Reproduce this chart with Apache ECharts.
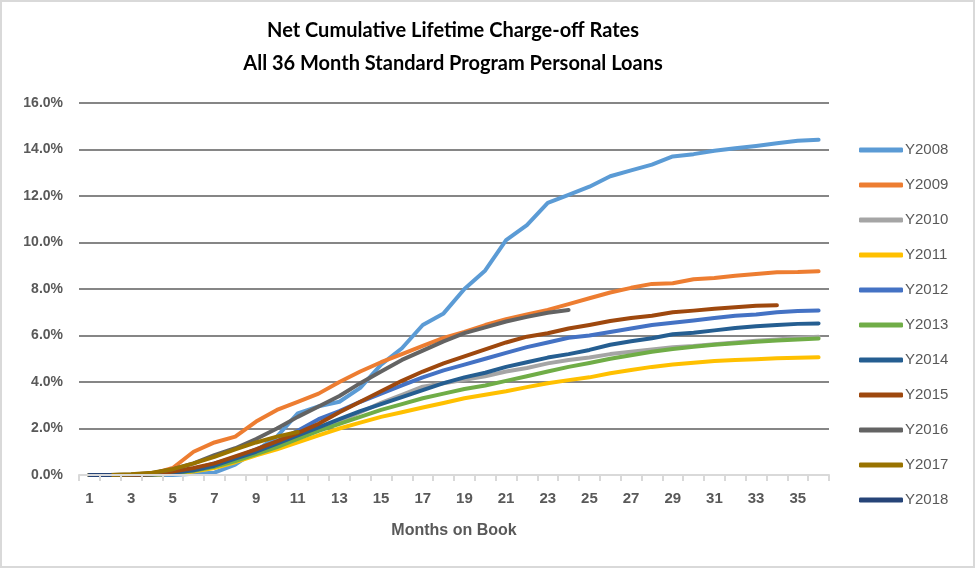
<!DOCTYPE html>
<html>
<head>
<meta charset="utf-8">
<script src="https://cdn.jsdelivr.net/npm/echarts@6/dist/echarts.min.js"></script>
<style>
html,body{margin:0;padding:0;background:#fff;}
#chart{width:975px;height:568px;box-sizing:border-box;border:2px solid #d9d9d9;}
</style>
</head>
<body>
<div id="chart"></div>
<script>
const months = Array.from({length: 36}, (_, i) => String(i + 1));
const seriesNames = ['Y2008','Y2009','Y2010','Y2011','Y2012','Y2013','Y2014','Y2015','Y2016','Y2017','Y2018'];
const colors = ['#5b9bd5','#ed7d31','#a5a5a5','#ffc000','#4472c4','#70ad47','#255e91','#9e480e','#636363','#997300','#264478'];

const Y2008 = [0,0,0,0,0,0.05,0.1,0.45,1.05,1.65,2.65,2.95,3.15,3.75,4.75,5.45,6.45,6.95,8.0,8.8,10.1,10.75,11.7,12.05,12.4,12.85,13.1,13.35,13.7,13.8,13.95,14.05,14.15,14.27,14.38,14.42];
const Y2009 = [0,0,0,0.05,0.3,1.0,1.4,1.65,2.3,2.8,3.15,3.5,4.0,4.45,4.85,5.2,5.55,5.9,6.15,6.45,6.7,6.9,7.1,7.35,7.6,7.85,8.05,8.22,8.25,8.42,8.47,8.57,8.65,8.72,8.73,8.76];
const Y2010 = [0,0,0,0.02,0.1,0.2,0.4,0.65,0.95,1.25,1.6,1.95,2.3,2.7,3.1,3.45,3.8,3.95,4.1,4.25,4.45,4.6,4.8,4.95,5.05,5.2,5.3,5.4,5.5,5.55,5.62,5.7,5.77,5.83,5.9,5.95];
const Y2011 = [0,0,0,0.01,0.05,0.15,0.3,0.55,0.85,1.1,1.4,1.7,2.0,2.25,2.5,2.7,2.9,3.1,3.3,3.45,3.6,3.78,3.95,4.08,4.2,4.38,4.52,4.65,4.75,4.83,4.9,4.95,4.98,5.02,5.04,5.06];
const Y2012 = [0,0,0,0.02,0.1,0.25,0.5,0.75,1.1,1.45,1.9,2.4,2.75,3.15,3.5,3.85,4.2,4.5,4.75,5.0,5.25,5.5,5.7,5.9,6.0,6.15,6.3,6.45,6.55,6.65,6.75,6.85,6.9,7.0,7.05,7.07];
const Y2013 = [0,0,0,0.02,0.08,0.18,0.35,0.6,0.9,1.2,1.55,1.9,2.2,2.5,2.8,3.05,3.3,3.5,3.7,3.85,4.05,4.25,4.45,4.65,4.82,5.0,5.15,5.3,5.42,5.52,5.6,5.67,5.73,5.78,5.83,5.87];
const Y2014 = [0,0,0,0.02,0.1,0.2,0.4,0.7,1.0,1.35,1.7,2.05,2.4,2.75,3.05,3.35,3.65,3.95,4.2,4.4,4.65,4.85,5.05,5.2,5.38,5.6,5.75,5.88,6.05,6.12,6.22,6.32,6.4,6.45,6.5,6.52];
const Y2015 = [0,0,0,0.03,0.15,0.3,0.5,0.8,1.1,1.45,1.8,2.2,2.7,3.15,3.6,4.05,4.45,4.8,5.1,5.4,5.7,5.95,6.1,6.3,6.45,6.62,6.75,6.85,7.0,7.07,7.15,7.22,7.28,7.3];
const Y2016 = [0,0,0.02,0.08,0.25,0.5,0.85,1.15,1.55,2.0,2.5,2.95,3.4,3.95,4.45,4.95,5.35,5.75,6.1,6.35,6.6,6.8,6.98,7.1];
const Y2017 = [0,0,0.03,0.1,0.25,0.5,0.78,1.1,1.4,1.65,1.85];
const Y2018 = [0,0];
const seriesData = [Y2008,Y2009,Y2010,Y2011,Y2012,Y2013,Y2014,Y2015,Y2016,Y2017,Y2018];

const titleLines = ['Net Cumulative Lifetime Charge-off Rates', 'All 36 Month Standard Program Personal Loans'];
const xAxisTitle = 'Months on Book';
const yMin = 0, yMax = 16, yStep = 2;

const chart = echarts.init(document.getElementById('chart'), null, {renderer: 'canvas'});
chart.setOption({
  animation: false,
  backgroundColor: '#ffffff',
  title: {
    text: titleLines.join('\n'),
    left: 446, top: 7, textAlign: 'center',
    textStyle: {fontFamily: 'Lato', fontWeight: 'bold', fontSize: 20, color: '#000', lineHeight: 33}
  },
  legend: {
    orient: 'vertical', left: 852, top: 133,
    itemWidth: 44, itemHeight: 5, itemGap: 15,
    icon: 'roundRect',
    data: seriesNames,
    textStyle: {fontFamily: 'Liberation Sans', fontSize: 15, color: '#595959', lineHeight: 20, padding: [0,0,0,-3]}
  },
  grid: {left: 77, right: 144, top: 101, bottom: 91, containLabel: false},
  xAxis: {
    type: 'category', data: months, boundaryGap: true,
    name: xAxisTitle, nameLocation: 'middle', nameGap: 48,
    nameTextStyle: {fontFamily: 'Liberation Sans', fontWeight: 'bold', fontSize: 16, color: '#595959'},
    axisLine: {show: true, lineStyle: {color: '#d9d9d9', width: 2}},
    axisTick: {show: true, alignWithLabel: false, interval: 0, length: 6, lineStyle: {color: '#d9d9d9', width: 2}},
    axisLabel: {interval: 1, margin: 16, fontFamily: 'Liberation Sans', fontWeight: 'bold', fontSize: 15, color: '#595959'},
    z: 5
  },
  yAxis: {
    type: 'value', min: yMin, max: yMax, interval: yStep,
    axisLine: {show: false}, axisTick: {show: false},
    axisLabel: {margin: 16, fontFamily: 'Liberation Sans', fontWeight: 'bold', fontSize: 14, color: '#595959',
      formatter: v => v.toFixed(1) + '%'},
    splitLine: {show: true, lineStyle: {color: ['#d9d9d9','#868686','#868686','#868686','#868686','#868686','#868686','#868686','#868686'], width: 2}}
  },
  series: seriesNames.map((n, i) => ({
    name: n, type: 'line', data: seriesData[i],
    showSymbol: false, symbol: 'none',
    color: colors[i],
    lineStyle: {width: 4, color: colors[i], cap: 'round', join: 'round'},
    emphasis: {disabled: true}
  }))
});
</script>
</body>
</html>
